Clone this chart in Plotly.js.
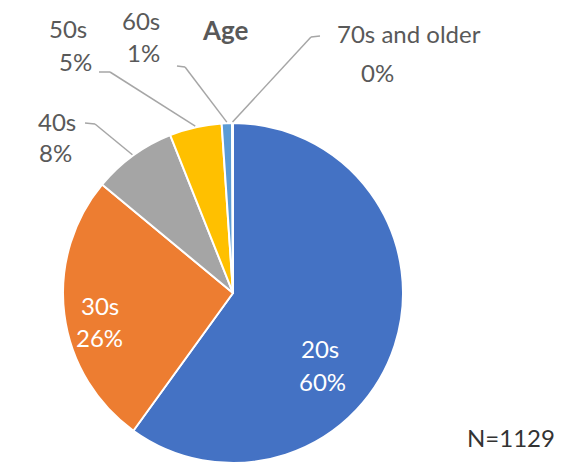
<!DOCTYPE html>
<html>
<head>
<meta charset="utf-8">
<script src="https://cdn.plot.ly/plotly-3.0.1.min.js"></script>
<style>html,body{margin:0;padding:0;background:#fff;}#chart{width:563px;height:475px;}</style>
</head>
<body>
<div id="chart"></div>
<script>
// ---- data ----
const categories = ['20s', '30s', '40s', '50s', '60s', '70s and older'];
const counts = [677, 294, 90, 56, 11, 1];
const chartTitle = 'Age';
const sampleLabel = 'N=';

// ---- style / layout ----
const W = 563, H = 475;
const cx = 233, cy = 293, R = 170;       // pie centre and radius in pixels
const sliceColors = ['#4472C4', '#ED7D31', '#A5A5A5', '#FFC000', '#5B9BD5', '#70AD47'];
const FONT = 'Lato, "Open Sans", sans-serif';
const FS = 24;
const labelGray = '#595959';
// label placement (pixel centres): [name, percent]
const labelPos = [
  [[320, 348], [322, 381]],
  [[100, 305], [99, 337]],
  [[57, 122], [55, 152]],
  [[68, 28], [75, 61]],
  [[141, 20], [143, 53]],
  [[409, 33], [377, 73]]
];
const insideLabel = [true, true, false, false, false, false];
// leader line start and elbow (pixels) for outside labels
const leaders = {
  2: [[85, 123], [95, 124]],
  3: [[99, 72], [110, 72]],
  4: [[177, 66], [185, 67]],
  5: [[320, 36], [311, 37]]
};

const total = counts.reduce((a, b) => a + b, 0);
const px2x = p => p / W;
const px2y = p => 1 - p / H;

const trace = {
  type: 'pie',
  labels: categories,
  values: counts,
  sort: false,
  direction: 'clockwise',
  rotation: 0,
  textinfo: 'none',
  hoverinfo: 'label+percent',
  marker: {colors: sliceColors, line: {color: '#ffffff', width: 2}},
  domain: {x: [px2x(cx - R), px2x(cx + R)], y: [px2y(cy + R), px2y(cy - R)]},
  showlegend: false
};

const annotations = [];
const shapes = [];
let cum = 0;
categories.forEach((cat, i) => {
  const frac = counts[i] / total;
  const mid = (cum + frac / 2) * 2 * Math.PI;
  cum += frac;
  const pct = Math.round(frac * 100) + '%';
  const col = insideLabel[i] ? '#ffffff' : labelGray;
  [[cat, labelPos[i][0]], [pct, labelPos[i][1]]].forEach(([t, p]) => {
    annotations.push({
      text: t, xref: 'paper', yref: 'paper', x: px2x(p[0]), y: px2y(p[1]),
      xanchor: 'center', yanchor: 'middle', showarrow: false,
      font: {family: FONT, size: FS, color: col}
    });
  });
  if (leaders[i]) {
    const ex = cx + (R + 1) * Math.sin(mid);
    const ey = cy - (R + 1) * Math.cos(mid);
    const [s, e] = leaders[i];
    const line = {color: '#A6A6A6', width: 1.5};
    shapes.push({type: 'line', xref: 'paper', yref: 'paper',
      x0: px2x(s[0]), y0: px2y(s[1]), x1: px2x(e[0]), y1: px2y(e[1]), line});
    shapes.push({type: 'line', xref: 'paper', yref: 'paper',
      x0: px2x(e[0]), y0: px2y(e[1]), x1: px2x(ex), y1: px2y(ey), line});
  }
});

annotations.push({
  text: '<b>' + chartTitle + '</b>', xref: 'paper', yref: 'paper',
  x: px2x(225), y: px2y(30), xanchor: 'center', yanchor: 'middle', showarrow: false,
  font: {family: FONT, size: 26, color: labelGray}
});
annotations.push({
  text: sampleLabel + total, xref: 'paper', yref: 'paper',
  x: px2x(511), y: px2y(437), xanchor: 'center', yanchor: 'middle', showarrow: false,
  font: {family: FONT, size: FS, color: '#333333'}
});

const layout = {
  width: W, height: H,
  margin: {l: 0, r: 0, t: 0, b: 0},
  paper_bgcolor: '#ffffff',
  annotations, shapes
};

Plotly.newPlot('chart', [trace], layout, {displayModeBar: false, staticPlot: true});
</script>
</body>
</html>
